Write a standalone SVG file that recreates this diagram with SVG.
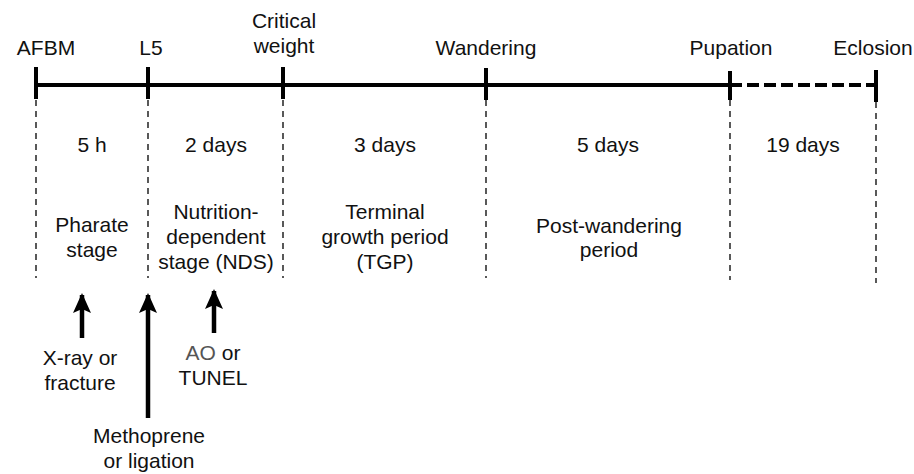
<svg xmlns="http://www.w3.org/2000/svg" width="914" height="474" viewBox="0 0 914 474">
<defs>
<style>
text{font-family:"Liberation Sans",Arial,sans-serif;font-size:21px;fill:#111;text-anchor:middle}
.main{stroke:#000;stroke-width:4;fill:none}
.tick{stroke:#000;stroke-width:4}
.guide{stroke:#000;stroke-width:1.3;stroke-dasharray:6,5;fill:none}
.arr{stroke:#000;stroke-width:4.5;fill:none}
</style>
<marker id="ah" viewBox="0 0 20 20" refX="18" refY="10" markerWidth="20" markerHeight="20" markerUnits="userSpaceOnUse" orient="auto"><path d="M0,1 L20,10 L0,19 L4,10 z" fill="#000"/></marker>
</defs>
<g id="connectors">
<line class="main" x1="36" y1="85" x2="730" y2="85"/>
<line class="main" x1="730" y1="85" x2="876" y2="85" stroke-dasharray="12,5"/>
<line class="guide" x1="36" y1="100" x2="36" y2="278"/>
<line class="guide" x1="148" y1="100" x2="148" y2="278"/>
<line class="guide" x1="283" y1="100" x2="283" y2="278"/>
<line class="guide" x1="486" y1="100" x2="486" y2="278"/>
<line class="guide" x1="730" y1="100" x2="730" y2="280"/>
<line class="guide" x1="876" y1="102" x2="876" y2="283"/>
<line class="arr" x1="82" y1="338" x2="82" y2="295" marker-end="url(#ah)"/>
<line class="arr" x1="148" y1="418" x2="148" y2="295" marker-end="url(#ah)"/>
<line class="arr" x1="214" y1="333" x2="214" y2="291" marker-end="url(#ah)"/>
</g>
<g id="afbm"><line class="tick" x1="36" y1="67" x2="36" y2="99"/><text x="46" y="55">AFBM</text></g>
<g id="l5"><line class="tick" x1="148" y1="67" x2="148" y2="99"/><text x="151" y="55">L5</text></g>
<g id="critical"><line class="tick" x1="283" y1="67" x2="283" y2="99"/><text x="284" y="28">Critical</text><text x="284" y="53">weight</text></g>
<g id="wandering"><line class="tick" x1="486" y1="68" x2="486" y2="100"/><text x="486" y="55">Wandering</text></g>
<g id="pupation"><line class="tick" x1="730" y1="71" x2="730" y2="100"/><text x="731" y="55">Pupation</text></g>
<g id="eclosion"><line class="tick" x1="876" y1="70" x2="876" y2="102"/><text x="873" y="55">Eclosion</text></g>
<g id="durations">
<text x="92" y="152">5 h</text>
<text x="216" y="152">2 days</text>
<text x="385" y="152">3 days</text>
<text x="608" y="152">5 days</text>
<text x="803" y="152">19 days</text>
</g>
<g id="pharate"><text x="92" y="232">Pharate</text><text x="92" y="257">stage</text></g>
<g id="nds"><text x="216" y="219">Nutrition-</text><text x="216" y="244">dependent</text><text x="216" y="269">stage (NDS)</text></g>
<g id="tgp"><text x="385" y="219">Terminal</text><text x="385" y="244">growth period</text><text x="385" y="269">(TGP)</text></g>
<g id="postwandering"><text x="609" y="233">Post-wandering</text><text x="609" y="257">period</text></g>
<g id="xray"><text x="80" y="365">X-ray or</text><text x="80" y="390">fracture</text></g>
<g id="ao"><text x="213" y="360"><tspan fill="#555">AO</tspan> or</text><text x="213" y="385">TUNEL</text></g>
<g id="methoprene"><text x="149" y="443">Methoprene</text><text x="149" y="468">or ligation</text></g>
</svg>
